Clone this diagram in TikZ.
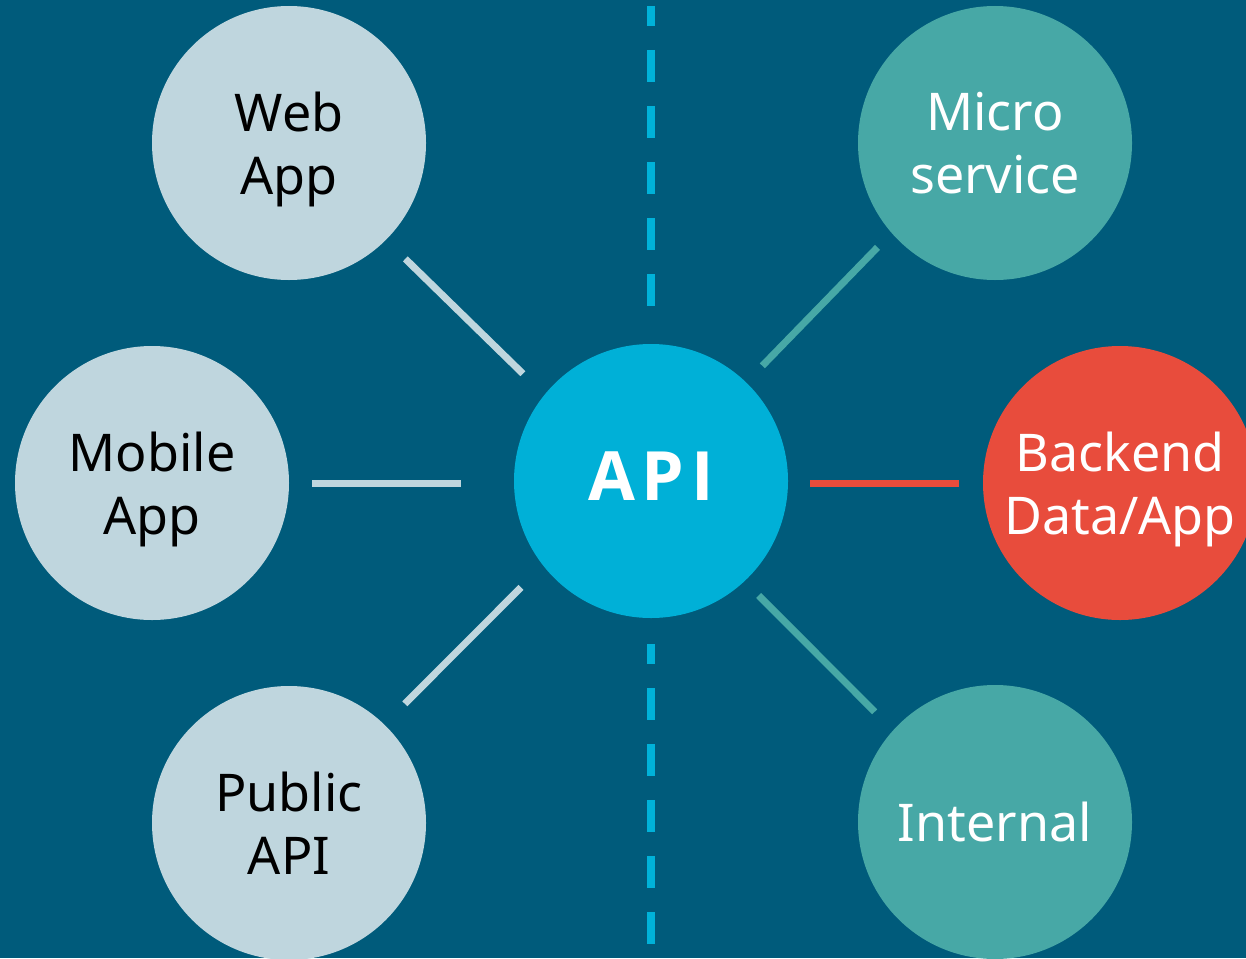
\documentclass[tikz,border=0pt]{standalone}
\usepackage{fontspec}
\setmainfont{Noto Sans}
\newfontfamily\hubfont{Open Sans}
\usetikzlibrary{calc}

\definecolor{bgblue}{HTML}{005B7B}
\definecolor{apiblue}{HTML}{00B0D7}
\definecolor{dashblue}{HTML}{00B2D9}
\definecolor{paleblue}{HTML}{BFD6DE}
\definecolor{seateal}{HTML}{47A8A6}
\definecolor{coral}{HTML}{E84C3C}

\tikzset{
  bubble/.style={circle, minimum size=274pt, inner sep=0pt, align=center,
    text depth=0pt, font=\fontsize{52}{63}\selectfont},
  client/.style={bubble, fill=paleblue, text=black},
  service/.style={bubble, fill=seateal, text=white},
  backend/.style={bubble, fill=coral, text=white},
  hub/.style={bubble, fill=apiblue, text=white, text depth=10pt,
    font=\hubfont\bfseries\fontsize{68}{80}\selectfont},
  link/.style={line width=7pt},
  divider/.style={dashblue, line width=8pt, dash pattern=on 32pt off 24pt,
    dash phase=12pt}
}

\begin{document}
\begin{tikzpicture}[x=1pt, y=-1pt]
  \useasboundingbox (0,0) rectangle (1246,958);
  \clip (0,0) rectangle (1246,958);
  \fill[bgblue] (0,0) rectangle (1246,958);

  % dashed divider
  \coordinate (divtop) at (651,6);
  \coordinate (divtopend) at (651,306);
  \coordinate (divbot) at (651,644);
  \coordinate (divbotend) at (651,944);
  \draw[divider] (divtop) -- (divtopend);
  \draw[divider] (divbot) -- (divbotend);

  % bubbles
  \node[hub]     (api)      at (651,481) {A\kern6ptP\kern7ptI};
  \node[client]  (web)      at (289,143) {Web\\App};
  \node[client]  (mobile)   at (152,483) {Mobile\\App};
  \node[client]  (public)   at (289,823) {Public\\API};
  \node[service] (micro)    at (995,143) {Micro\\service};
  \node[backend] (back)     at (1120,483) {Backend\\Data/App};
  \node[service] (internal) at (995,822) {Internal};

  % connectors
  \draw[link, paleblue, shorten <=27pt, shorten >=30pt] (web.-45.5) -- (api.141.8);
  \draw[link, paleblue, shorten <=23pt, shorten >=53pt] (mobile.east) -- (mobile.east -| api.west);
  \draw[link, paleblue, shorten <=29pt, shorten >=31pt] (public.46.2) -- (api.218.7);
  \draw[link, seateal, shorten <=23pt, shorten >=20pt] (api.46.3) -- (micro.221.9);
  \draw[link, coral, shorten <=24pt, shorten >=22pt] (back.west) -- (back.west -| api.east);
  \draw[link, seateal, shorten <=20pt, shorten >=26pt] (api.-47.8) -- (internal.138.5);
\end{tikzpicture}
\end{document}
